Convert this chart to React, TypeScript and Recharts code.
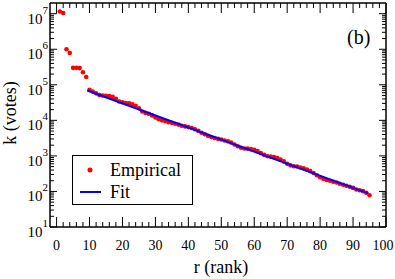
import React from 'react';
import { ComposedChart, Scatter, XAxis, YAxis } from 'recharts';

// Empirical votes k for rank r = 1, 2, 3, ...
const empiricalK = [
  11500000, 10500000, 1000000, 790000, 300000, 300000, 295000, 225000, 165000,
  72400, 64600, 57500, 51300, 50100, 49000, 47900, 45700, 40700, 33900,
  32400, 30900, 30200, 28500, 25700, 21900, 17800, 16200, 15300, 13800,
  12000, 10700, 10000, 9440, 8910, 8510, 8040, 7590, 7080, 6760,
  6460, 6100, 5620, 5070, 4470, 4070, 3670, 3390, 3200, 3020,
  2880, 2720, 2570, 2370, 2090, 1860, 1700, 1620, 1600, 1550,
  1480, 1360, 1200, 1070, 977, 955, 923, 871, 794, 700,
  603, 543, 513, 501, 473, 447, 412, 372, 331, 285,
  251, 226, 209, 200, 188, 178, 164, 155, 145, 136,
  126, 114, 108, 102, 92, 78,
];

// Fit line end points
const fitRank = [9.3, 94.6];
const fitK = [69000, 88];

const xMajorTicks = [0, 10, 20, 30, 40, 50, 60, 70, 80, 90, 100];
const xMinorTicks = [2, 4, 6, 8, 12, 14, 16, 18, 22, 24, 26, 28, 32, 34, 36, 38, 42, 44, 46, 48, 52, 54, 56, 58, 62, 64, 66, 68, 72, 74, 76, 78, 82, 84, 86, 88, 92, 94, 96, 98];
const yMajorTicks = [1e1, 1e2, 1e3, 1e4, 1e5, 1e6, 1e7];
const yMinorMultipliers = [2, 3, 4, 5, 6, 7, 8, 9];

const xTicks = [...xMajorTicks, ...xMinorTicks].sort((a, b) => a - b);
const yTicks: number[] = [];
yMajorTicks.slice(0, -1).forEach((d) => {
  yTicks.push(d);
  yMinorMultipliers.forEach((m) => yTicks.push(m * d));
});
yTicks.push(yMajorTicks[yMajorTicks.length - 1]);

const empiricalData = empiricalK.map((k, i) => ({ r: i + 1, k }));
const fitData = fitRank.map((r, i) => ({ r, k: fitK[i] }));

const FONT = "Liberation Serif, Times New Roman, Times, DejaVu Serif, Noto Serif, serif";
const txt = { fontFamily: FONT };
const isMajorX = (v: number) => xMajorTicks.includes(v);
const isMajorY = (v: number) => yMajorTicks.some((t) => Math.abs(t - v) < 1e-6 * t);

const BottomTick = (props: any) => {
  const { x, y, payload } = props;
  const v = payload.value;
  const major = isMajorX(v);
  return (
    <g>
      <line x1={x} x2={x} y1={y} y2={y - (major ? 10 : 5)} stroke="#000" strokeWidth={1} />
      {major && (
        <text x={v === 100 ? x - 3 : x} y={y + 23} textAnchor="middle" fontSize={14} fontFamily={FONT} style={txt} fill="#000">
          {v}
        </text>
      )}
    </g>
  );
};

const TopTick = (props: any) => {
  const { x, y, payload } = props;
  const major = isMajorX(payload.value);
  return <line x1={x} x2={x} y1={y} y2={y + (major ? 10 : 5)} stroke="#000" strokeWidth={1} />;
};

const LeftTick = (props: any) => {
  const { x, y, payload } = props;
  const v = payload.value;
  const major = isMajorY(v);
  const exp = Math.round(Math.log10(v));
  return (
    <g>
      <line x1={x} x2={x + (major ? 7 : 4)} y1={y} y2={y} stroke="#000" strokeWidth={1} />
      {major && (
        <text x={x - 2} y={y + 10} textAnchor="end" fontSize={15} fontFamily={FONT} style={txt} fill="#000">
          10
          <tspan dy={-10} fontSize={11}>{exp}</tspan>
        </text>
      )}
    </g>
  );
};

const RightTick = (props: any) => {
  const { x, y, payload } = props;
  const major = isMajorY(payload.value);
  return <line x1={x} x2={x - (major ? 7 : 4)} y1={y} y2={y} stroke="#000" strokeWidth={1} />;
};

const Dot = (props: any) => {
  const { cx, cy } = props;
  if (cx == null || cy == null) return <g />;
  return <circle cx={cx} cy={cy} r={2.3} fill="#ff0000" />;
};

const NoDot = () => <g />;

export default function App() {
  return (
    <div style={{ position: 'absolute', left: 0, top: 0, width: 395, height: 279, background: '#fff', fontFamily: FONT }}>
      <ComposedChart
        width={395}
        height={279}
        margin={{ top: 2, right: 8, bottom: 22, left: 0 }}
      >
        <XAxis
          dataKey="r"
          type="number"
          domain={[-2, 100]}
          allowDataOverflow
          ticks={xTicks}
          interval={0}
          tickSize={0}
          tickMargin={0}
          tickLine={false}
          tick={BottomTick}
          height={30}
          axisLine={{ stroke: '#000', strokeWidth: 1.5 }}
        />
        <XAxis
          xAxisId="top"
          orientation="top"
          dataKey="r"
          type="number"
          domain={[-2, 100]}
          allowDataOverflow
          ticks={xTicks}
          interval={0}
          tickSize={0}
          tickMargin={0}
          tickLine={false}
          tick={TopTick}
          height={1}
          axisLine={{ stroke: '#000', strokeWidth: 1.5 }}
        />
        <YAxis
          dataKey="k"
          type="number"
          scale="log"
          domain={[10, 2e7]}
          allowDataOverflow
          ticks={yTicks}
          interval={0}
          tickSize={0}
          tickMargin={0}
          tickLine={false}
          tick={LeftTick}
          width={50}
          axisLine={{ stroke: '#000', strokeWidth: 1.5 }}
        />
        <YAxis
          yAxisId="right"
          orientation="right"
          dataKey="k"
          type="number"
          scale="log"
          domain={[10, 2e7]}
          allowDataOverflow
          ticks={yTicks}
          interval={0}
          tickSize={0}
          tickMargin={0}
          tickLine={false}
          tick={RightTick}
          width={1}
          axisLine={{ stroke: '#000', strokeWidth: 1.5 }}
        />
        <Scatter name="Empirical" data={empiricalData} dataKey="k" shape={Dot} isAnimationActive={false} />
        <Scatter
          name="Fit"
          data={fitData}
          dataKey="k"
          shape={NoDot}
          line={{ stroke: '#0000ff', strokeWidth: 2 }}
          lineType="joint"
          isAnimationActive={false}
        />
      </ComposedChart>
      <svg
        width={395}
        height={279}
        style={{ position: 'absolute', left: 0, top: 0, pointerEvents: 'none' }}
      >
        <text x={221} y={273} textAnchor="middle" fontSize={18} fontFamily={FONT} style={txt} fill="#000">
          r (rank)
        </text>
        <text
          x={0}
          y={0}
          transform="translate(16,113) rotate(-90)"
          textAnchor="middle"
          fontSize={18}
          fontFamily={FONT}
          style={txt}
          fill="#000"
        >
          k (votes)
        </text>
        <text x={347} y={44} fontSize={20} fontFamily={FONT} style={txt} fill="#000">
          (b)
        </text>
        <rect x={72.5} y={155.5} width={120} height={49} fill="#fff" stroke="#000" strokeWidth={1} />
        <circle cx={90} cy={170} r={2.5} fill="#ff0000" />
        <text x={110} y={176} fontSize={18} fontFamily={FONT} style={txt} fill="#000">
          Empirical
        </text>
        <line x1={80} x2={101} y1={192} y2={192} stroke="#0000ff" strokeWidth={2} />
        <text x={110} y={198} fontSize={18} fontFamily={FONT} style={txt} fill="#000">
          Fit
        </text>
      </svg>
    </div>
  );
}
